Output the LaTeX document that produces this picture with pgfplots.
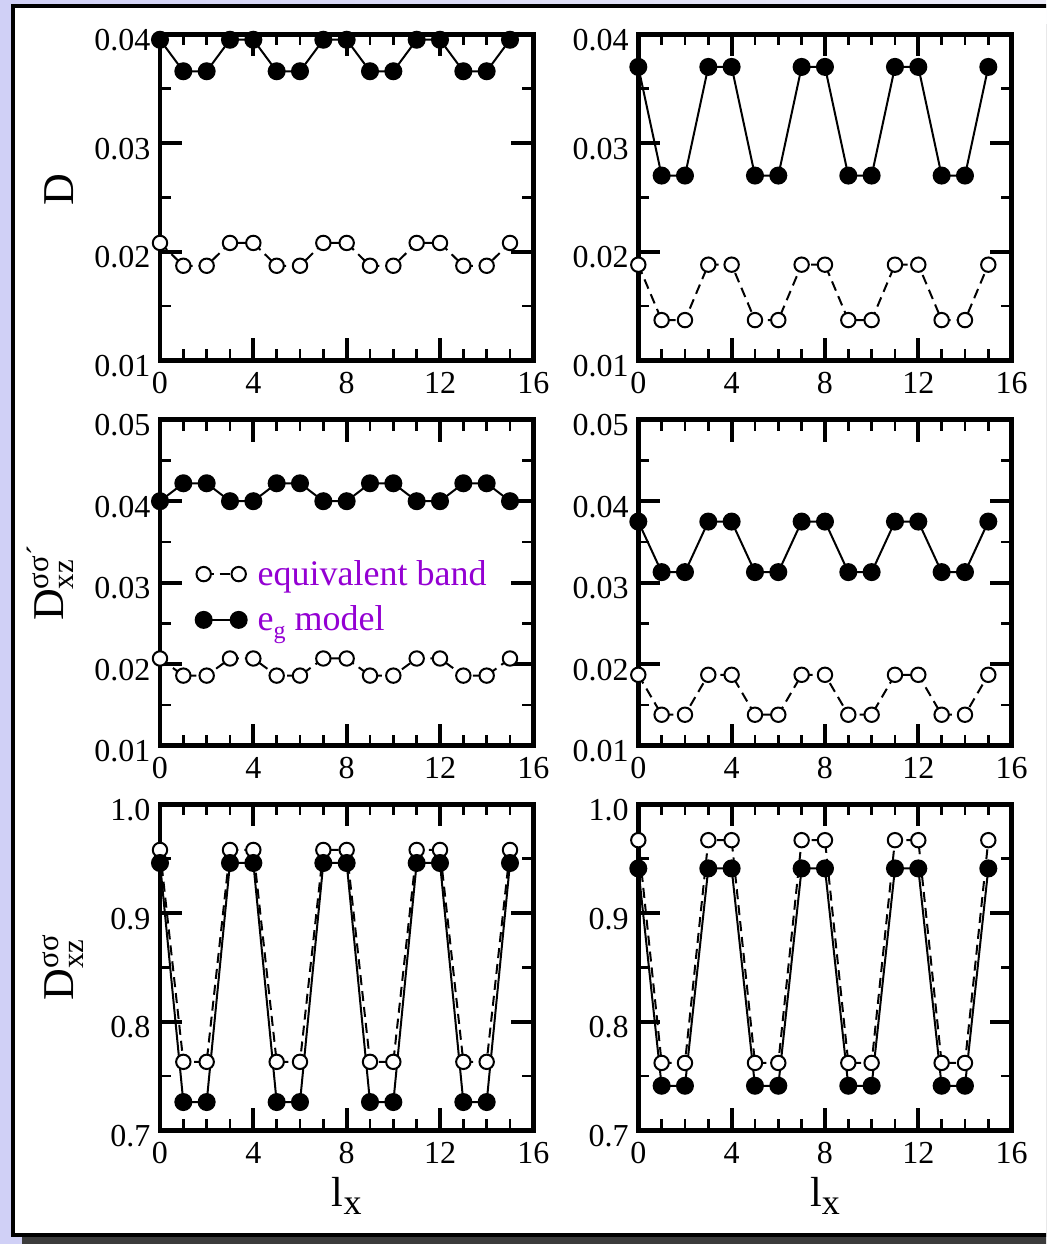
\documentclass[border=0pt]{standalone}
\usepackage{pgfplots}
\pgfplotsset{compat=1.18}
\usepackage{amsmath}
\usepackage{fontspec}
\setmainfont{Liberation Serif}

\definecolor{gviolet}{RGB}{148,0,211}
\definecolor{pagebg}{RGB}{208,208,246}
\definecolor{pagebgtop}{RGB}{236,236,248}
\definecolor{shadowgray}{RGB}{60,60,60}

\pgfplotsset{
  panel/.style={
    scale only axis, width=186.67pt, height=163pt,
    xmin=0, xmax=16, xtick={0,4,8,12,16},
    minor x tick num=3, minor y tick num=1,
    tick align=inside, tick pos=both,
    major tick length=11pt, minor tick length=5.5pt,
    major tick style={line width=2pt, black},
    minor tick style={line width=1.3pt, black},
    axis line style={line width=2.25pt},
    clip=false,
    scaled y ticks=false,
    /pgf/number format/assume math mode=true,
    tick label style={font=\fontsize{16}{16}\selectfont},
    xticklabel style={yshift=-2.4pt},
    yticklabel style={xshift=-1.3pt, yshift=-2.85pt},
    every axis y label/.style={at={(rel axis cs:0,0.5)}, xshift=-43.3pt,
      rotate=90, anchor=base, font=\fontsize{22}{22}\selectfont},
    every axis x label/.style={at={(rel axis cs:0.5,0)}, yshift=-38pt,
      anchor=base, font=\fontsize{21}{21}\selectfont},
    legend image code/.code={\draw[##1] plot coordinates {(0pt,0pt) (17.5pt,0pt)};},
  },
  smallD/.style={ymin=0.01, ymax=0.04, ytick={0.01,0.02,0.03,0.04},
    yticklabel style={/pgf/number format/fixed, /pgf/number format/fixed zerofill,
      /pgf/number format/precision=2}},
  smallDm/.style={ymin=0.01, ymax=0.05, ytick={0.01,0.02,0.03,0.04,0.05},
    yticklabel style={/pgf/number format/fixed, /pgf/number format/fixed zerofill,
      /pgf/number format/precision=2}},
  bigD/.style={ymin=0.7, ymax=1.0, ytick={0.7,0.8,0.9,1.0},
    yticklabel style={/pgf/number format/fixed, /pgf/number format/fixed zerofill,
      /pgf/number format/precision=1}},
  equiv/.style={black, line width=1pt, dash pattern=on 5pt off 3pt,
    mark=*, mark size=3.6pt, mark options={solid, fill=white, line width=1pt}},
  egmod/.style={black, line width=1pt, solid,
    mark=*, mark size=4pt, mark options={solid, fill=black}},
}

\newcommand{\lx}{l\raisebox{-4pt}{\fontsize{18}{18}\selectfont x}}

\begin{document}
\begin{tikzpicture}
\useasboundingbox (0,0) rectangle (523pt,-622pt);
\begin{scope}
  \clip (0,0) rectangle (523pt,-622pt);
  \shade[left color=pagebg, right color=pagebgtop] (0,0) rectangle (523pt,-622pt);
  \fill[pagebg] (0,0) rectangle (7pt,-622pt);
  \fill[shadowgray] (10.85pt,-12pt) rectangle (540pt,-640pt);
  \filldraw[fill=white, draw=black, line width=2pt] (6.5pt,-2.85pt) rectangle (540pt,-617.5pt);
\end{scope}

% ---- top row: D ----
\begin{axis}[panel, smallD, at={(80pt,-17.15pt)}, anchor=north west,
  ylabel={D}, every axis y label/.append style={xshift=3.65pt}]
\addplot[equiv] coordinates {(0,0.0208)(1,0.0187)(2,0.0187)(3,0.0208)(4,0.0208)(5,0.0187)(6,0.0187)(7,0.0208)
  (8,0.0208)(9,0.0187)(10,0.0187)(11,0.0208)(12,0.0208)(13,0.0187)(14,0.0187)(15,0.0208)};
\addplot[egmod] coordinates {(0,0.0395)(1,0.0366)(2,0.0366)(3,0.0395)(4,0.0395)(5,0.0366)(6,0.0366)(7,0.0395)
  (8,0.0395)(9,0.0366)(10,0.0366)(11,0.0395)(12,0.0395)(13,0.0366)(14,0.0366)(15,0.0395)};
\end{axis}

\begin{axis}[panel, smallD, at={(319.15pt,-17.15pt)}, anchor=north west]
\addplot[equiv] coordinates {(0,0.0188)(1,0.0137)(2,0.0137)(3,0.0188)(4,0.0188)(5,0.0137)(6,0.0137)(7,0.0188)
  (8,0.0188)(9,0.0137)(10,0.0137)(11,0.0188)(12,0.0188)(13,0.0137)(14,0.0137)(15,0.0188)};
\addplot[egmod] coordinates {(0,0.0370)(1,0.0270)(2,0.0270)(3,0.0370)(4,0.0370)(5,0.0270)(6,0.0270)(7,0.0370)
  (8,0.0370)(9,0.0270)(10,0.0270)(11,0.0370)(12,0.0370)(13,0.0270)(14,0.0270)(15,0.0370)};
\end{axis}

% ---- middle row: D_xz^{sigma sigma'} ----
\begin{axis}[panel, smallDm, at={(80pt,-209.85pt)}, anchor=north west,
  ylabel={D$^{\text{σσ´}}_{\text{xz}}$}, every axis y label/.append style={yshift=5pt},
  legend style={draw=none, fill=none, at={(0,1)}, anchor=north west,
    xshift=17.65pt, yshift=-69pt, font=\fontsize{18}{18}\selectfont,
    text=gviolet, row sep=6.9pt, inner sep=0pt, nodes={inner sep=1pt},
    /tikz/every odd column/.append style={column sep=4.5pt}},
  legend cell align=left]
\addplot[equiv] coordinates {(0,0.0207)(1,0.0186)(2,0.0186)(3,0.0207)(4,0.0207)(5,0.0186)(6,0.0186)(7,0.0207)
  (8,0.0207)(9,0.0186)(10,0.0186)(11,0.0207)(12,0.0207)(13,0.0186)(14,0.0186)(15,0.0207)};
\addlegendentry{equivalent band}
\addplot[egmod] coordinates {(0,0.0400)(1,0.0422)(2,0.0422)(3,0.0400)(4,0.0400)(5,0.0422)(6,0.0422)(7,0.0400)
  (8,0.0400)(9,0.0422)(10,0.0422)(11,0.0400)(12,0.0400)(13,0.0422)(14,0.0422)(15,0.0400)};
\addlegendentry{e\raisebox{-0.22em}{\fontsize{12}{12}\selectfont g} model}
\end{axis}

\begin{axis}[panel, smallDm, at={(319.15pt,-209.85pt)}, anchor=north west]
\addplot[equiv] coordinates {(0,0.0187)(1,0.0138)(2,0.0138)(3,0.0187)(4,0.0187)(5,0.0138)(6,0.0138)(7,0.0187)
  (8,0.0187)(9,0.0138)(10,0.0138)(11,0.0187)(12,0.0187)(13,0.0138)(14,0.0138)(15,0.0187)};
\addplot[egmod] coordinates {(0,0.0375)(1,0.0313)(2,0.0313)(3,0.0375)(4,0.0375)(5,0.0313)(6,0.0313)(7,0.0375)
  (8,0.0375)(9,0.0313)(10,0.0313)(11,0.0375)(12,0.0375)(13,0.0313)(14,0.0313)(15,0.0375)};
\end{axis}

% ---- bottom row: D_xz^{sigma sigma} ----
\begin{axis}[panel, bigD, at={(80pt,-402.15pt)}, anchor=north west,
  ylabel={D$^{\text{σσ}}_{\text{xz}}$}, xlabel={\lx}]
\addplot[equiv] coordinates {(0,0.958)(1,0.763)(2,0.763)(3,0.958)(4,0.958)(5,0.763)(6,0.763)(7,0.958)
  (8,0.958)(9,0.763)(10,0.763)(11,0.958)(12,0.958)(13,0.763)(14,0.763)(15,0.958)};
\addplot[egmod] coordinates {(0,0.946)(1,0.726)(2,0.726)(3,0.946)(4,0.946)(5,0.726)(6,0.726)(7,0.946)
  (8,0.946)(9,0.726)(10,0.726)(11,0.946)(12,0.946)(13,0.726)(14,0.726)(15,0.946)};
\end{axis}

\begin{axis}[panel, bigD, at={(319.15pt,-402.15pt)}, anchor=north west,
  xlabel={\lx}]
\addplot[equiv] coordinates {(0,0.967)(1,0.762)(2,0.762)(3,0.967)(4,0.967)(5,0.762)(6,0.762)(7,0.967)
  (8,0.967)(9,0.762)(10,0.762)(11,0.967)(12,0.967)(13,0.762)(14,0.762)(15,0.967)};
\addplot[egmod] coordinates {(0,0.941)(1,0.741)(2,0.741)(3,0.941)(4,0.941)(5,0.741)(6,0.741)(7,0.941)
  (8,0.941)(9,0.741)(10,0.741)(11,0.941)(12,0.941)(13,0.741)(14,0.741)(15,0.941)};
\end{axis}
\end{tikzpicture}
\end{document}
